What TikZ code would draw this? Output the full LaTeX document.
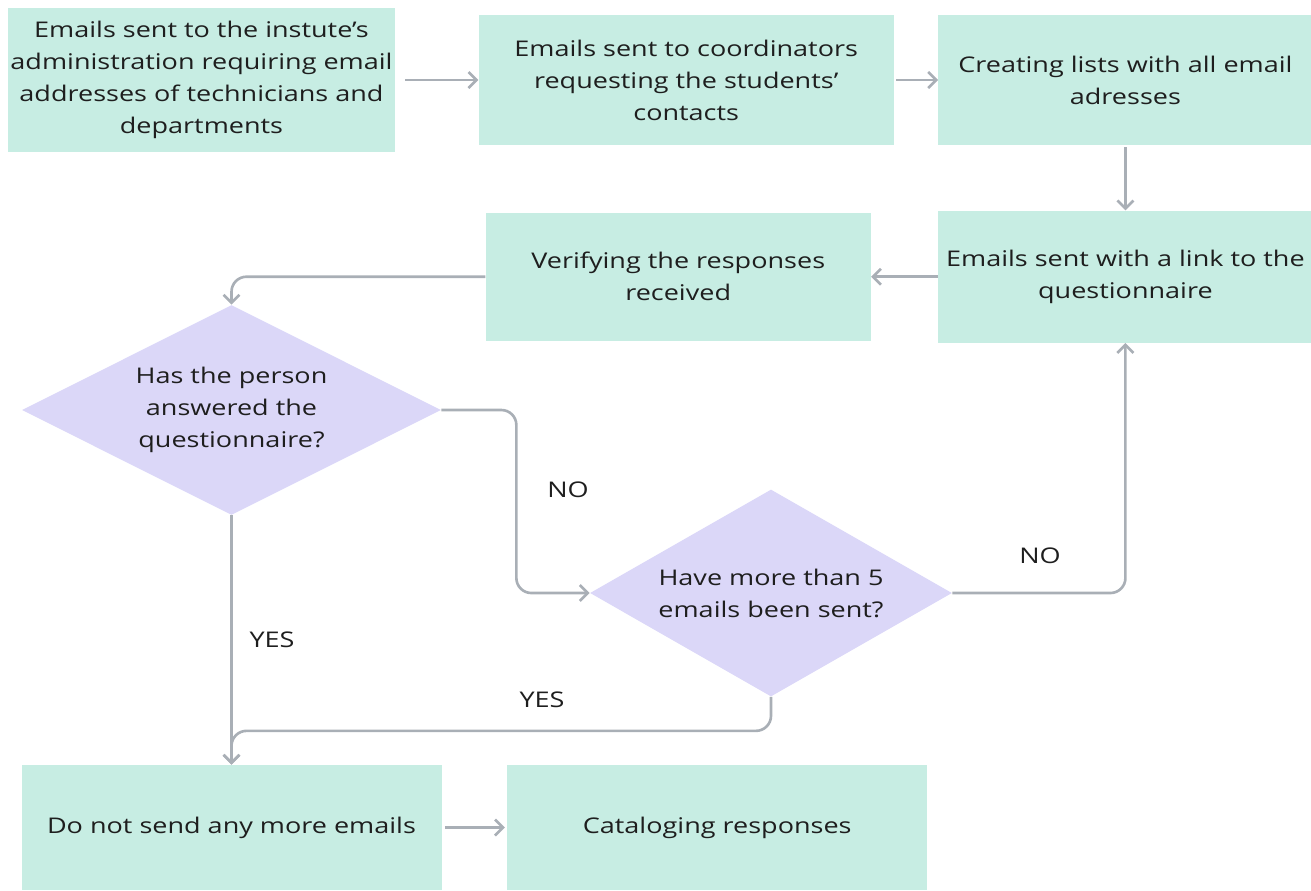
\documentclass[tikz,border=0pt]{standalone}
\usepackage{fontspec}
\setmainfont{Open Sans}[FakeStretch=1.25]
\usepackage{tikz}
\usetikzlibrary{positioning}
\usetikzlibrary{arrows.meta}
\usetikzlibrary{shapes.geometric}
\definecolor{stepfill}{HTML}{C7EDE3}
\definecolor{askfill}{HTML}{DBD7F8}
\definecolor{flowgray}{HTML}{A9AFB6}
\definecolor{inktext}{HTML}{1E1E1E}

\begin{document}
\begin{tikzpicture}[->,
        >={Straight Barb[length=1.6mm,width=3.2mm]},
        box/.style={
        fill=stepfill,
        text=inktext,
        align=center,
        inner sep=0pt,
        minimum width=8.3cm,
        minimum height=2.6cm,
        font={\fontsize{12.3}{18.2}\selectfont}},
        ask/.style={
        diamond,
        aspect=2,
        fill=askfill,
        text=inktext,
        align=center,
        inner sep=0pt,
        font={\fontsize{12.3}{18.2}\selectfont}},
        flow/.style={draw=flowgray, line width=1.5pt, rounded corners=0.3cm},
        lbl/.style={text=inktext, font={\fontsize{12.3}{18.2}\selectfont}}]

        \useasboundingbox (0,0) rectangle (26.22,-17.8);

        \node[box, minimum width=7.74cm, minimum height=2.88cm] (admin) at (4.03,-1.6) {Emails sent to the instute’s\\administration requiring email\\addresses of technicians and\\departments};
        \node[box] (coord) [right=1.66cm of admin] {Emails sent to coordinators\\requesting the students’\\contacts};
        \node[box, minimum width=7.48cm] (lists) [right=0.88cm of coord] {Creating lists with all email\\adresses};
        \node[box, minimum width=7.48cm, minimum height=2.64cm] (link) [below=1.3cm of lists] {Emails sent with a link to the\\questionnaire};
        \node[box, minimum width=7.7cm, minimum height=2.56cm] (verify) [left=1.34cm of link] {Verifying the responses\\received};
        \node[ask, minimum width=8.38cm, minimum height=4.2cm] (answered) at (4.63,-8.2) {Has the person\\answered the\\questionnaire?};
        \node[ask, minimum width=7.24cm, minimum height=4.14cm] (five) at (15.42,-11.86) {Have more than 5\\emails been sent?};
        \node[box, minimum width=8.4cm, minimum height=2.5cm] (stop) at (4.63,-16.55) {Do not send any more emails};
        \node[box, minimum width=8.4cm, minimum height=2.5cm] (catalog) [right=1.3cm of stop] {Cataloging responses};

        \draw[flow, shorten <=0.2cm] (admin) -- (coord);
        \draw[flow, shorten <=0.04cm] (coord) -- (lists);
        \draw[flow, shorten <=0.04cm] (lists) -- (link);
        \draw[flow] (link) -- (verify);
        \draw[flow] (verify.west) -| (answered.north);
        \draw[flow] (answered.east) -- ++(1.5,0) |- (five.west); % not answered
        \draw[flow] (five.east) -| (link.south); % send again
        \draw[flow] (answered.south) -- (stop.north);
        \draw[flow] (five.south) -- ++(0,-0.68) -| (stop.north); % five reached
        \draw[flow, shorten <=0.06cm, shorten >=0.04cm] (stop) -- (catalog);

        \node[lbl] (no1) at (11.36,-9.8) {NO};
        \node[lbl] (no2) at (20.8,-11.12) {NO};
        \node[lbl] (yes1) at (5.44,-12.8) {YES};
        \node[lbl] (yes2) at (10.84,-14.0) {YES};
\end{tikzpicture}
\end{document}
